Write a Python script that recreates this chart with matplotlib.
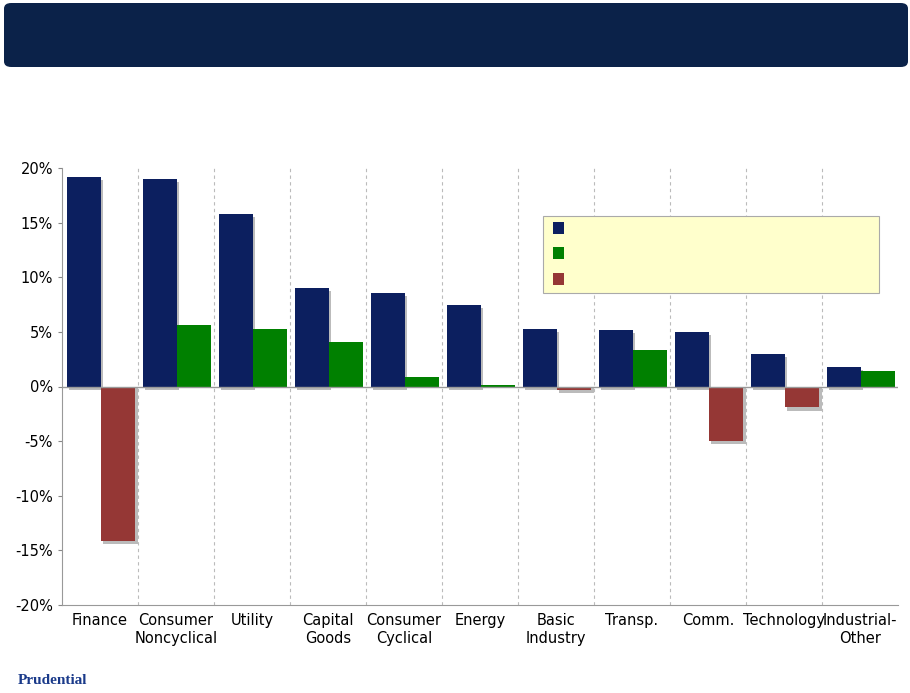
import matplotlib
matplotlib.use("Agg")
import matplotlib.pyplot as plt
from matplotlib.patches import FancyBboxPatch, Rectangle

categories = ["Finance", "Consumer\nNoncyclical", "Utility", "Capital\nGoods", "Consumer\nCyclical",
              "Energy", "Basic\nIndustry", "Transp.", "Comm.", "Technology", "Industrial-\nOther"]
blue_vals = [19.2, 19.0, 15.8, 9.0, 8.6, 7.5, 5.3, 5.2, 5.0, 3.0, 1.8]
second_vals = [-14.1, 5.6, 5.3, 4.1, 0.9, 0.1, -0.3, 3.3, -5.0, -1.9, 1.4]

BLUE, GREEN, RED = "#0c1f5f", "#008000", "#953735"

fig = plt.figure(figsize=(9.10, 6.93), dpi=100)
W, H = 910, 693
ax = fig.add_axes([62/W, 1-605/H, (898-62)/W, (605-168)/H])

for i, (b, s) in enumerate(zip(blue_vals, second_vals)):
    ax.bar(i+0.29+0.03, b, 0.45, color="#bbbbbb", zorder=2, bottom=-0.3 if b > 0 else 0)
    ax.bar(i+0.29, b, 0.45, color=BLUE, zorder=3)
    c = RED if s < 0 else GREEN
    if s < 0:
        ax.bar(i+0.74+0.03, s-0.3, 0.45, color="#bbbbbb", zorder=2)
    ax.bar(i+0.74, s, 0.45, color=c, zorder=3)

ax.set_xlim(0, 11)
ax.set_ylim(-20, 20)
ax.set_yticks(range(-20, 21, 5))
ax.set_yticklabels([f"{v}%" for v in range(-20, 21, 5)], fontsize=10.5)
ax.set_xticks([i+0.5 for i in range(11)])
ax.set_xticklabels(categories, fontsize=10.5)
ax.tick_params(axis="x", length=0, pad=6)
ax.tick_params(axis="y", length=3, color="#888888")
for x in range(1, 11):
    ax.axvline(x, color="#bbbbbb", ls=(0, (3, 3)), lw=0.8, zorder=1)
ax.axhline(0, color="#999999", lw=1, zorder=4)
for sp in ["top", "right"]:
    ax.spines[sp].set_visible(False)
ax.spines["left"].set_color("#999999")
ax.spines["bottom"].set_color("#999999")

# legend box
fig.patches.append(Rectangle((543/W, 1-293/H), 336/W, 77/H, transform=fig.transFigure,
                             facecolor="#ffffcc", edgecolor="#aaaaaa", lw=0.8, zorder=5))
for y, c in zip([228, 253, 279], [BLUE, GREEN, RED]):
    fig.patches.append(Rectangle((553/W, 1-(y+6)/H), 11/W, 12/H, transform=fig.transFigure,
                                 facecolor=c, edgecolor="none", zorder=6))

# header
fig.patches.append(FancyBboxPatch((4/W, 1-67/H), 904/W, 64/H, boxstyle="round,pad=0,rounding_size=0.008",
                                  transform=fig.transFigure, facecolor="#0b2249", edgecolor="none"))
fig.text(18/W, 1-681/H, "Prudential", fontsize=11, color="#1a3a8a", family="Liberation Serif",
         weight="bold", va="center")

fig.savefig("out.png", dpi=100)
